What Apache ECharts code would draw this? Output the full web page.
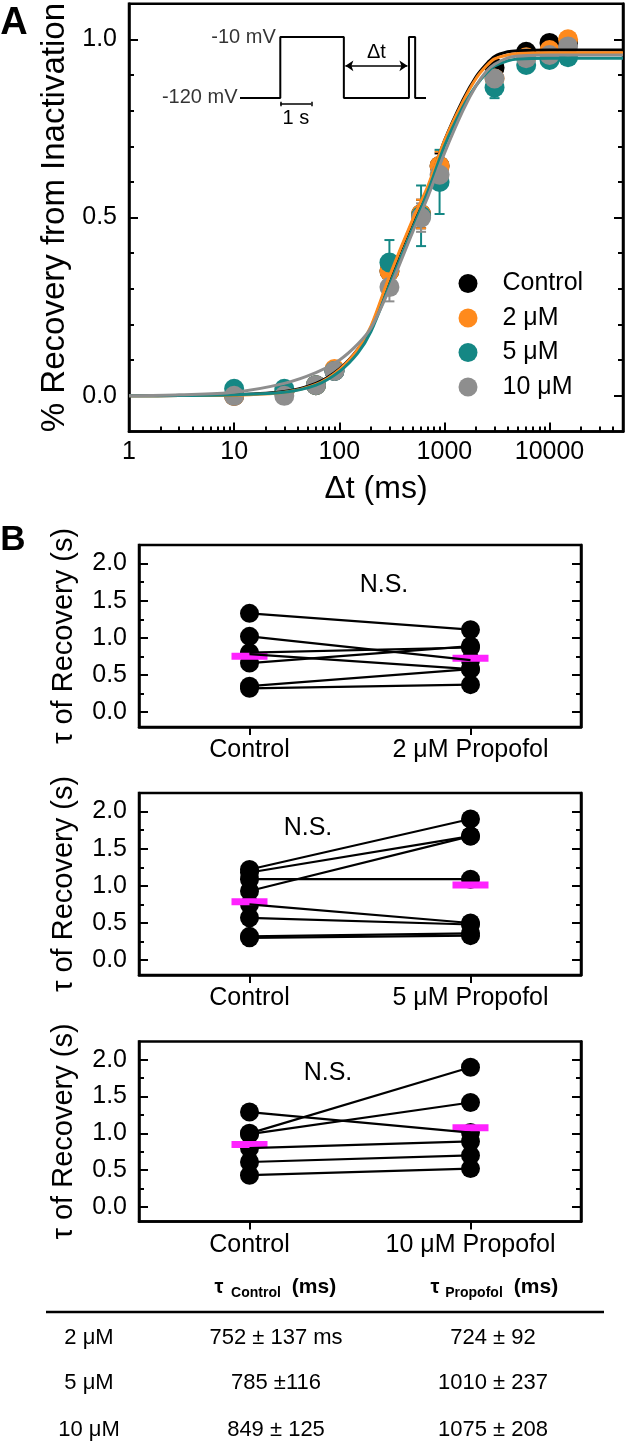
<!DOCTYPE html>
<html><head><meta charset="utf-8">
<script src="https://cdn.jsdelivr.net/npm/echarts@6/dist/echarts.min.js"></script>
<style>html,body{margin:0;padding:0;background:#fff}#c{width:628px;height:1442px}</style>
</head><body><div id="c"></div>
<script>
const FONT = '"Liberation Sans", Arial, sans-serif';

// ---------- Panel A: recovery data ----------
const seriesNames = ['Control', '2 μM', '5 μM', '10 μM'];
const seriesColors = ['#000000', '#FF8A1C', '#148784', '#8E8E8E'];
const dtMs = [10, 30, 60, 90, 300, 600, 900, 3000, 6000, 10000, 15000];
const recControl = [0.00, 0.01, 0.03, 0.07, 0.35, 0.51, 0.645, 0.92, 0.965, 0.99, 0.99];
const semControl = [0.005, 0.005, 0.01, 0.01, 0.03, 0.04, 0.035, 0.02, 0.01, 0.015, 0.01];
const rec2uM = [0.00, 0.01, 0.03, 0.075, 0.35, 0.51, 0.645, 0.89, 0.95, 0.97, 1.00];
const sem2uM = [0.005, 0.005, 0.01, 0.015, 0.03, 0.04, 0.04, 0.02, 0.015, 0.02, 0.01];
const rec5uM = [0.02, 0.02, 0.03, 0.07, 0.374, 0.505, 0.60, 0.865, 0.928, 0.942, 0.95];
const sem5uM = [0.01, 0.01, 0.01, 0.02, 0.063, 0.085, 0.09, 0.03, 0.02, 0.02, 0.015];
const rec10uM = [0.00, 0.00, 0.03, 0.07, 0.305, 0.50, 0.62, 0.89, 0.947, 0.956, 0.98];
const sem10uM = [0.005, 0.005, 0.01, 0.01, 0.04, 0.04, 0.04, 0.02, 0.015, 0.02, 0.02];

// fitted curves
const fitT = [1, 3, 10, 30, 60, 100, 150, 200, 300, 500, 700, 1000, 1500, 2000, 2500, 3000, 4000, 5000, 10000, 50000];
const fitControl = [0, 0.001, 0.003, 0.012, 0.035, 0.075, 0.13, 0.19, 0.33, 0.49, 0.585, 0.715, 0.83, 0.895, 0.93, 0.952, 0.965, 0.968, 0.97, 0.97];
const fit2uM = [0, 0.001, 0.002, 0.010, 0.032, 0.073, 0.13, 0.195, 0.335, 0.495, 0.59, 0.715, 0.825, 0.89, 0.925, 0.945, 0.956, 0.96, 0.962, 0.962];
const fit5uM = [0, 0.001, 0.003, 0.010, 0.030, 0.068, 0.12, 0.18, 0.31, 0.47, 0.575, 0.70, 0.81, 0.87, 0.905, 0.925, 0.94, 0.945, 0.947, 0.947];
const fit10uM = [0, 0.003, 0.010, 0.035, 0.065, 0.10, 0.145, 0.19, 0.30, 0.46, 0.56, 0.68, 0.80, 0.87, 0.91, 0.93, 0.948, 0.953, 0.956, 0.956];

const xMajorTicks = [1, 10, 100, 1000, 10000];
const yMajorA = [0, 0.5, 1.0];

// inset protocol
const protoT = [0, 1.3, 1.3, 3.35, 3.35, 5.45, 5.45, 5.65, 5.65, 6.0];
const protoV = [-120, -120, -10, -10, -120, -120, -10, -10, -120, -120];
const protoLabels = ['-120 mV', '-10 mV'];
const protoLabelPts = [[0, -120], [1.3, -10]];

// ---------- Panel B: paired tau values (s) ----------
const bCats = [['Control', '2 μM Propofol'], ['Control', '5 μM Propofol'], ['Control', '10 μM Propofol']];
const b1Ctrl = [1.33, 1.02, 0.80, 0.78, 0.66, 0.35, 0.32];
const b1Prop = [1.11, 0.70, 0.87, 0.58, 0.89, 0.58, 0.37];
const b2Ctrl = [1.22, 1.18, 1.09, 0.93, 0.75, 0.57, 0.32, 0.30];
const b2Prop = [1.90, 1.67, 1.09, 1.67, 0.50, 0.48, 0.36, 0.33];
const b3Ctrl = [1.29, 1.00, 0.99, 0.80, 0.61, 0.43];
const b3Prop = [1.01, 1.90, 1.42, 0.89, 0.70, 0.52];
const yMajorB = [0, 0.5, 1.0, 1.5, 2.0];
const yMinorB = [0.25, 0.75, 1.25, 1.75];

// ---------- Table ----------
const tableConc = ['2 μM', '5 μM', '10 μM'];
const tauCtrlMs = [752, 785, 849];
const tauPropMs = [724, 1010, 1075];
const tableCtrlText = ['752 ± 137 ms', '785 ±116', '849 ± 125'];
const tablePropText = ['724 ± 92', '1010 ± 237', '1075 ± 208'];

// ================= build option =================
const yMinorA = [];
for (let i = -1; i <= 11; i++) { const v = +(i / 10).toFixed(1); if (yMajorA.indexOf(v) < 0 && v > -0.1 && v < 1.1) yMinorA.push(v); }
const xMinorA = [];
for (let d = 1; d <= 10000; d *= 10) for (let k = 2; k <= 9; k++) { if (d * k <= 50000) xMinorA.push(d * k); }

const grids = [
  { left: 129, top: 2, width: 494, height: 429.5 },
  { left: 139, top: 545, width: 442, height: 182 },
  { left: 139, top: 793, width: 442, height: 182 },
  { left: 139, top: 1041.5, width: 442, height: 180 },
  { left: 240, top: 37, width: 186, height: 72 }
].map(g => Object.assign({ show: g.left !== 240, borderColor: '#000', borderWidth: 2.5, containLabel: false }, g));

function yAxesFor(grid, min, max, major, minor, name, nameGap, nameSize) {
  const tickStyle = { color: '#000', width: 2 };
  const base = { gridIndex: grid, type: 'value', min, max, splitLine: { show: false } };
  return [
    Object.assign({}, base, {
      position: 'left', name, nameLocation: 'middle', nameGap,
      nameTextStyle: { fontSize: nameSize, color: '#000', fontFamily: FONT },
      axisLine: { show: true, onZero: false, lineStyle: { color: '#000', width: 2.5 } },
      axisTick: { show: true, inside: true, length: 9, lineStyle: tickStyle, customValues: major },
      axisLabel: { show: true, customValues: major, formatter: v => (+v).toFixed(1), fontSize: 25, color: '#000', margin: 12, fontFamily: FONT }
    }),
    Object.assign({}, base, {
      position: 'left', axisLine: { show: false, onZero: false },
      axisTick: { show: true, inside: true, length: 5, lineStyle: tickStyle, customValues: minor },
      axisLabel: { show: false }
    }),
    Object.assign({}, base, {
      position: 'right', axisLine: { show: true, onZero: false, lineStyle: { color: '#000', width: 2.5 } },
      axisTick: { show: true, inside: true, length: 9, lineStyle: tickStyle, customValues: major },
      axisLabel: { show: false }
    }),
    Object.assign({}, base, {
      position: 'right', axisLine: { show: false, onZero: false },
      axisTick: { show: true, inside: true, length: 5, lineStyle: tickStyle, customValues: minor },
      axisLabel: { show: false }
    })
  ];
}

const xAxes = [
  { gridIndex: 0, type: 'log', logBase: 10, min: 1, max: 50000, position: 'bottom',
    name: 'Δt (ms)', nameLocation: 'middle', nameGap: 42,
    nameTextStyle: { fontSize: 32, color: '#000', fontFamily: FONT },
    axisLine: { show: true, onZero: false, lineStyle: { color: '#000', width: 2.5 } },
    axisTick: { show: true, inside: true, length: 9, lineStyle: { color: '#000', width: 2 }, customValues: xMajorTicks },
    axisLabel: { show: true, customValues: xMajorTicks, fontSize: 25, color: '#000', margin: 8, fontFamily: FONT, formatter: v => String(Math.round(v)) },
    splitLine: { show: false }, minorTick: { show: false } },
  { gridIndex: 0, type: 'log', logBase: 10, min: 1, max: 50000, position: 'bottom',
    axisLine: { show: false, onZero: false },
    axisTick: { show: true, inside: true, length: 5, lineStyle: { color: '#000', width: 2 }, customValues: xMinorA },
    axisLabel: { show: false }, splitLine: { show: false } }
];
for (let i = 0; i < 3; i++) {
  xAxes.push({ gridIndex: i + 1, type: 'category', data: bCats[i], position: 'bottom',
    axisLine: { show: true, onZero: false, lineStyle: { color: '#000', width: 2.5 } },
    axisTick: { show: true, inside: false, length: 8, alignWithLabel: true, lineStyle: { color: '#000', width: 2 } },
    axisLabel: { fontSize: 25, color: '#000', margin: 11, fontFamily: FONT, interval: 0, hideOverlap: false },
    splitLine: { show: false } });
}
xAxes.push({ gridIndex: 4, type: 'value', min: 0, max: 6, show: false });

let yAxes = [];
yAxes = yAxes.concat(yAxesFor(0, -0.1, 1.1, yMajorA, yMinorA, '% Recovery from Inactivation', 56, 33));
for (let i = 0; i < 3; i++) yAxes = yAxes.concat(yAxesFor(i + 1, -0.2, 2.25, yMajorB, yMinorB, 'τ of Recovery (s)', 61, 29));
yAxes.push({ gridIndex: 4, type: 'value', min: -140, max: -10, show: false });

const series = [];
// Panel A points with error bars
const recAll = [recControl, rec2uM, rec5uM, rec10uM];
const semAll = [semControl, sem2uM, sem5uM, sem10uM];
const fitAll = [fitControl, fit2uM, fit5uM, fit10uM];
for (let s = 0; s < 4; s++) {
  const col = seriesColors[s];
  series.push({
    name: seriesNames[s] + ' SEM', type: 'custom', xAxisIndex: 0, yAxisIndex: 0, silent: true,
    data: dtMs.map((t, i) => [t, recAll[s][i] - semAll[s][i], recAll[s][i] + semAll[s][i]]),
    encode: { x: 0, y: [1, 2] },
    renderItem: (params, api) => {
      const x = api.value(0);
      const p1 = api.coord([x, api.value(2)]);
      const p2 = api.coord([x, api.value(1)]);
      const w = 5, st = { stroke: col, lineWidth: 2 };
      return { type: 'group', children: [
        { type: 'line', shape: { x1: p1[0], y1: p1[1], x2: p2[0], y2: p2[1] }, style: st },
        { type: 'line', shape: { x1: p1[0] - w, y1: p1[1], x2: p1[0] + w, y2: p1[1] }, style: st },
        { type: 'line', shape: { x1: p2[0] - w, y1: p2[1], x2: p2[0] + w, y2: p2[1] }, style: st }
      ] };
    }
  });
  series.push({
    name: seriesNames[s], type: 'scatter', xAxisIndex: 0, yAxisIndex: 0,
    symbol: 'circle', symbolSize: 20, itemStyle: { color: col, opacity: 1 },
    data: dtMs.map((t, i) => [t, recAll[s][i]])
  });
}
for (let s = 0; s < 4; s++) {
  series.push({
    name: seriesNames[s] + ' fit', type: 'line', xAxisIndex: 0, yAxisIndex: 0,
    smooth: 0.3, showSymbol: false, symbol: 'none',
    lineStyle: { color: seriesColors[s], width: 3 }, itemStyle: { color: seriesColors[s] },
    data: fitT.map((t, i) => [t, fitAll[s][i]])
  });
}
// Inset protocol
series.push({
  name: 'protocol', type: 'line', xAxisIndex: 5, yAxisIndex: 16, symbol: 'none', silent: true,
  lineStyle: { color: '#000', width: 2 },
  data: protoT.map((t, i) => [t, protoV[i]]),
  markLine: {
    silent: true, symbol: ['arrow', 'arrow'], symbolSize: 8, animation: false,
    lineStyle: { color: '#000', width: 1.5, type: 'solid' },
    label: { show: true, position: 'insideMiddleTop', formatter: 'Δt', fontSize: 20, color: '#000', fontFamily: FONT, distance: 3 },
    data: [[{ coord: [3.4, -62] }, { coord: [5.4, -62] }]]
  }
});
series.push({
  name: 'protocol labels', type: 'scatter', xAxisIndex: 5, yAxisIndex: 16, silent: true,
  symbolSize: 1, itemStyle: { color: 'rgba(0,0,0,0)' },
  label: { show: true, position: 'left', distance: 2, fontSize: 20, color: '#000', fontFamily: FONT, formatter: p => p.name },
  data: protoLabelPts.map((p, i) => ({ name: protoLabels[i], value: p, label: { distance: i === 0 ? 2 : 4 } })),
  markLine: {
    silent: true, symbol: 'none', animation: false,
    lineStyle: { color: '#000', width: 1.5, type: 'solid' },
    label: { show: false },
    data: [
      [{ coord: [1.3, -131], label: { show: true, position: 'insideMiddleBottom', formatter: '1 s', fontSize: 20, color: '#000', fontFamily: FONT, distance: 4 } }, { coord: [2.3, -131] }],
      [{ coord: [1.3, -127] }, { coord: [1.3, -135] }],
      [{ coord: [2.3, -127] }, { coord: [2.3, -135] }]
    ]
  }
});
// Panel B
const bCtrl = [b1Ctrl, b2Ctrl, b3Ctrl];
const bProp = [b1Prop, b2Prop, b3Prop];
for (let p = 0; p < 3; p++) {
  const xi = 2 + p, yi = 4 + 4 * p;
  bCtrl[p].forEach((c, i) => {
    series.push({ name: 'pair' + p + '_' + i, type: 'line', xAxisIndex: xi, yAxisIndex: yi, symbol: 'none', silent: true,
      lineStyle: { color: '#000', width: 2.2 }, data: [c, bProp[p][i]] });
  });
  series.push({ name: 'dots' + p, type: 'scatter', xAxisIndex: xi, yAxisIndex: yi, symbolSize: 19, silent: true,
    itemStyle: { color: '#000', opacity: 1 },
    data: bCtrl[p].map(v => [0, v]).concat(bProp[p].map(v => [1, v])) });
  series.push({ name: 'mean' + p, type: 'scatter', xAxisIndex: xi, yAxisIndex: yi, symbol: 'rect', symbolSize: [36, 7], silent: true,
    itemStyle: { color: '#FF22FF', opacity: 1 },
    data: [[0, tauCtrlMs[p] / 1000], [1, tauPropMs[p] / 1000]] });
}

// graphic texts
const g = [];
function txt(text, x, y, size, weight, align) {
  g.push({ type: 'text', x, y, silent: true, style: { text, fontSize: size, fontWeight: weight || 'normal', fontFamily: FONT, fill: '#000',
    align: align || 'center', verticalAlign: 'middle', textAlign: align || 'center', textVerticalAlign: 'middle' } });
}
txt('A', 14, 24, 38, 'bold');
txt('B', 13, 540, 35, 'bold');
txt('N.S.', 384, 585, 25);
txt('N.S.', 308, 828, 25);
txt('N.S.', 328, 1073, 25);
// table header
txt('τ', 219, 1287, 20, 'bold');
txt('Control', 256, 1293, 14, 'bold');
txt('(ms)', 314, 1287, 21, 'bold');
txt('τ', 435, 1287, 20, 'bold');
txt('Propofol', 474, 1293, 14, 'bold');
txt('(ms)', 536, 1287, 21, 'bold');
g.push({ type: 'line', silent: true, shape: { x1: 46, y1: 1312, x2: 604, y2: 1312 }, style: { stroke: '#000', lineWidth: 2.5 } });
const rowY = [1338, 1383, 1430];
tableConc.forEach((c, i) => {
  txt(c, 89, rowY[i], 22);
  txt(tableCtrlText[i], 276, rowY[i], 22);
  txt(tablePropText[i], 493, rowY[i], 22);
});

const option = {
  animation: false,
  backgroundColor: '#fff',
  textStyle: { fontFamily: FONT, color: '#000' },
  grid: grids,
  xAxis: xAxes,
  yAxis: yAxes,
  legend: {
    data: seriesNames.map(n => ({ name: n, icon: 'circle' })),
    orient: 'vertical', left: 458.5, top: 271, itemWidth: 19, itemHeight: 19, itemGap: 9.5,
    selectedMode: false, padding: 0,
    textStyle: { fontSize: 25, color: '#000', fontFamily: FONT, lineHeight: 25, padding: [0, 0, 0, 20] }
  },
  series,
  graphic: g
};
const chart = echarts.init(document.getElementById('c'));
chart.setOption(option);
</script>
</body></html>
